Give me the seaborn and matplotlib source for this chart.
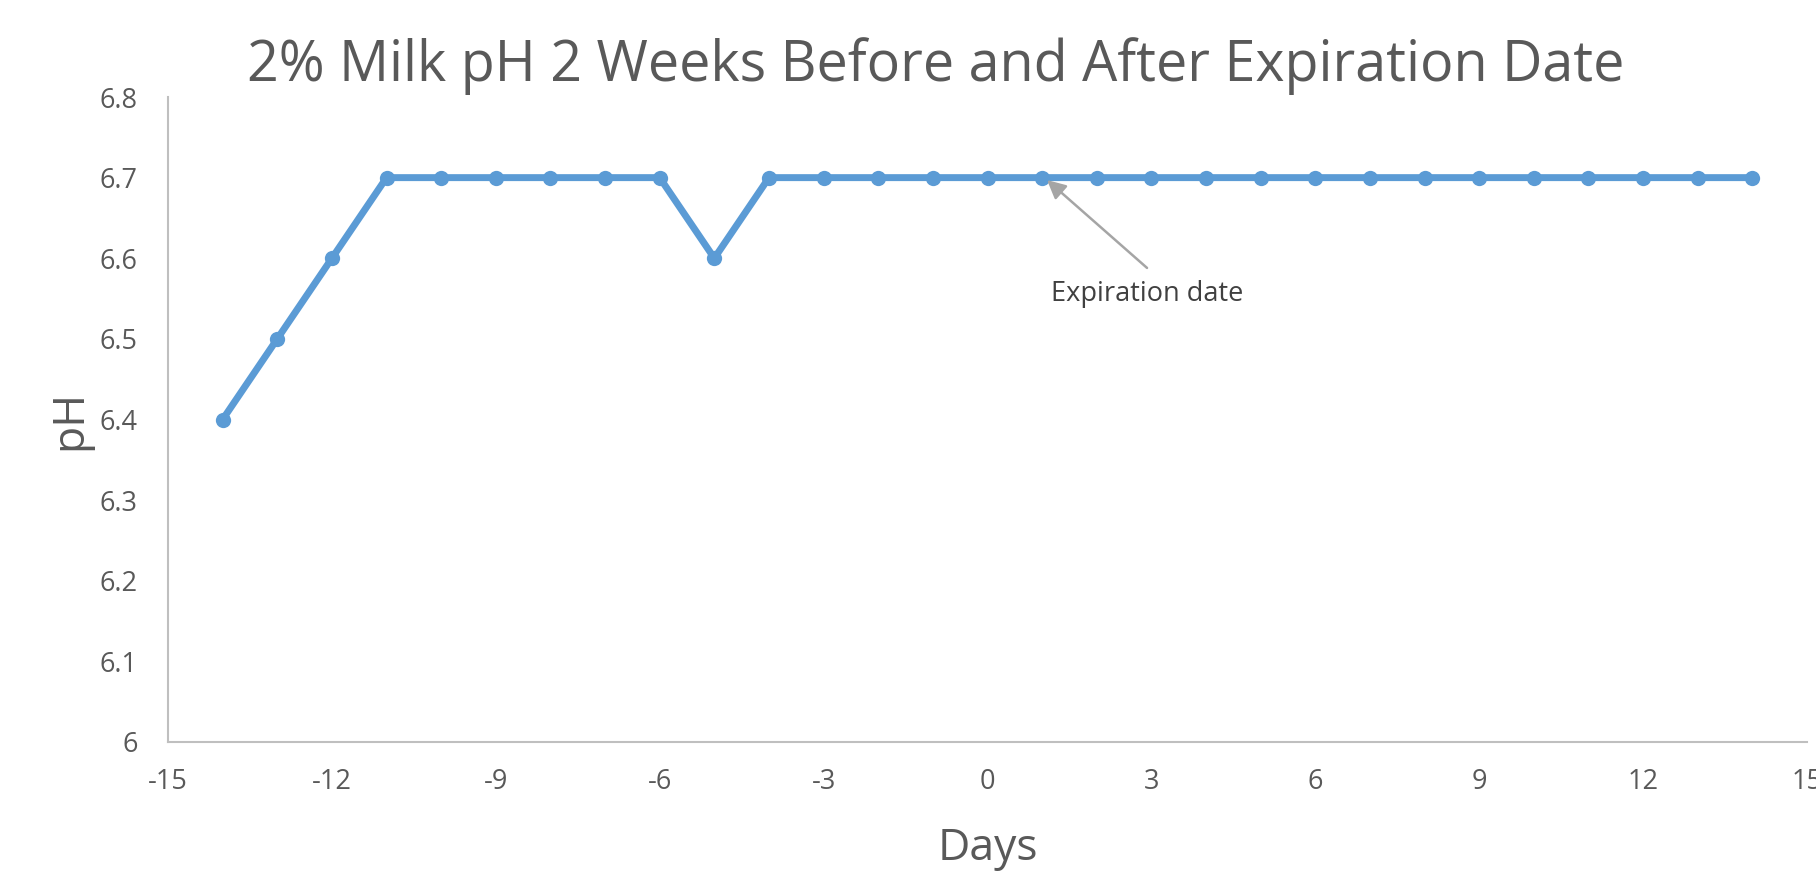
import matplotlib
matplotlib.use("Agg")
import matplotlib.pyplot as plt
import seaborn as sns
import pandas as pd

days = list(range(-14, 15))
ph = [6.4, 6.5, 6.6, 6.7, 6.7, 6.7, 6.7, 6.7, 6.7, 6.6, 6.7, 6.7, 6.7, 6.7, 6.7,
      6.7, 6.7, 6.7, 6.7, 6.7, 6.7, 6.7, 6.7, 6.7, 6.7, 6.7, 6.7, 6.7, 6.7]
x_ticks = [-15, -12, -9, -6, -3, 0, 3, 6, 9, 12, 15]
y_ticks = [6.0, 6.1, 6.2, 6.3, 6.4, 6.5, 6.6, 6.7, 6.8]
y_tick_labels = ["6", "6.1", "6.2", "6.3", "6.4", "6.5", "6.6", "6.7", "6.8"]
title = "2% Milk pH 2 Weeks Before and After Expiration Date"
annot_text = "Expiration date"
annot_index = 15  # day 1

df = pd.DataFrame({"Days": days, "pH": ph})

sns.set_style("white")
plt.rcParams["font.family"] = ["Open Sans", "DejaVu Sans"]

fig = plt.figure(figsize=(18.16, 8.73), dpi=100)
ax = fig.add_axes([168 / 1816, 1 - 742 / 873, (1807 - 168) / 1816, (742 - 97) / 873])

sns.lineplot(data=df, x="Days", y="pH", ax=ax, color="#5B9BD5", linewidth=5,
             marker="o", markersize=11, markeredgewidth=0, markeredgecolor="#5B9BD5")

ax.set_xlim(-15, 15)
ax.set_ylim(6.0, 6.8)
ax.set_xticks(x_ticks)
ax.set_xticklabels([str(t) for t in x_ticks])
ax.set_yticks(y_ticks)
ax.set_yticklabels(y_tick_labels)
ax.tick_params(axis="both", length=0, labelsize=19.5, colors="#595959")
ax.tick_params(axis="y", pad=22)
ax.tick_params(axis="x", pad=19)
ax.set_xlabel("")
ax.set_ylabel("")

for side in ["top", "right"]:
    ax.spines[side].set_visible(False)
for side in ["left", "bottom"]:
    ax.spines[side].set_color("#BFBFBF")
    ax.spines[side].set_linewidth(1.5)

fig.text(936 / 1816, 1 - 81 / 873, title, ha="center", va="baseline",
         fontsize=40.1, color="#595959")
fig.text(988 / 1816, 1 - 860 / 873, "Days", ha="center", va="baseline",
         fontsize=32, color="#595959")
fig.text(70 / 1816, 1 - 420 / 873, "pH", ha="center", va="center", rotation=90,
         fontsize=32, color="#595959")

ax.annotate("", xy=(days[annot_index] + 0.09, ph[annot_index] - 0.003),
            xytext=(2.92, 6.588),
            arrowprops=dict(arrowstyle="-|>", color="#A5A5A5", lw=1.8,
                            mutation_scale=28, shrinkA=0, shrinkB=0))
ax.text(2.92, 6.556, annot_text, ha="center", va="center", fontsize=19.5,
        color="#404040")

fig.savefig("out.png", dpi=100)
